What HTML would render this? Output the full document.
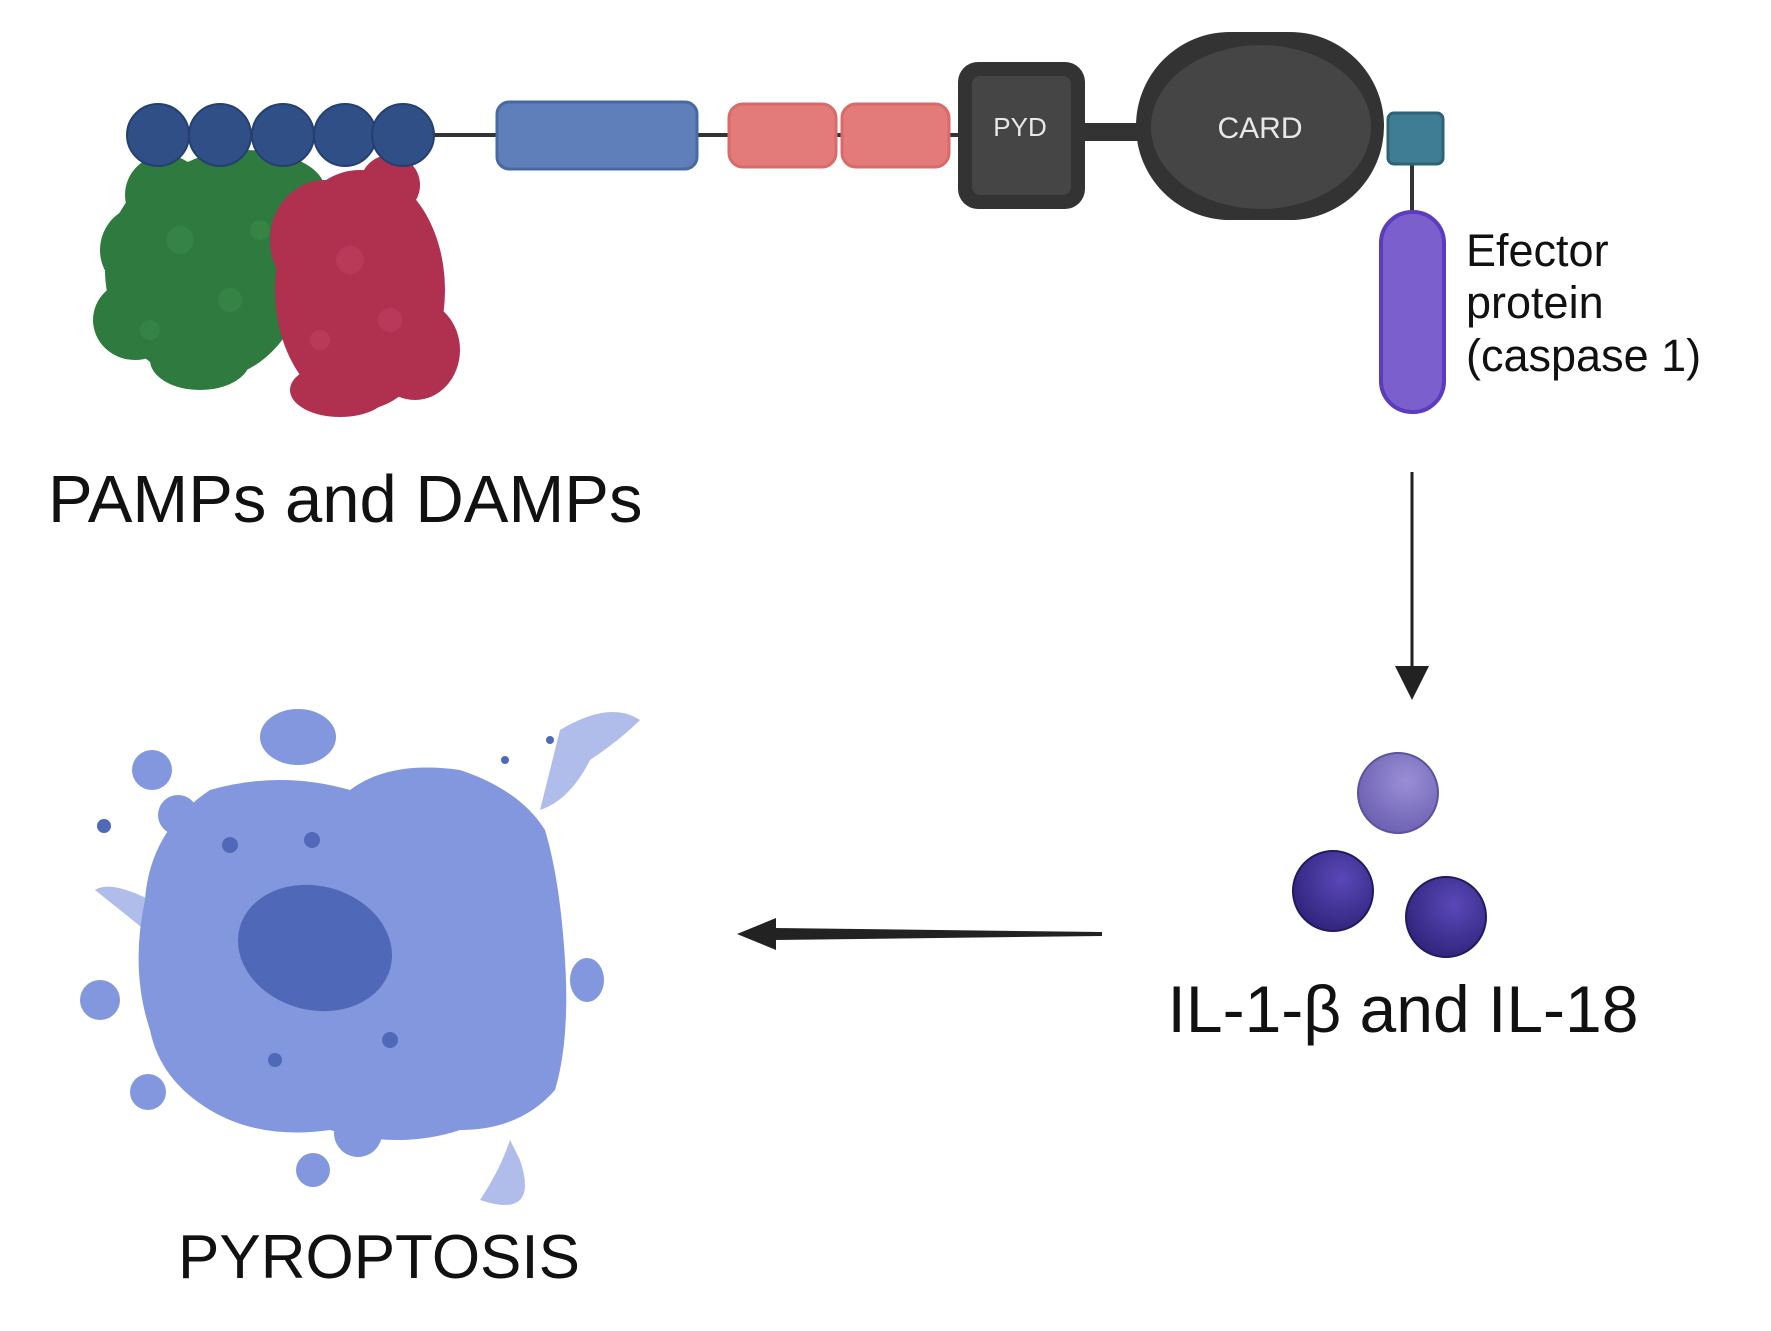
<!DOCTYPE html>
<html><head><meta charset="utf-8"><style>
html,body{margin:0;padding:0;background:#fff;}
svg{display:block;}
text{font-family:"Liberation Sans",sans-serif;}
</style></head><body>
<svg width="1771" height="1331" viewBox="0 0 1771 1331" xmlns="http://www.w3.org/2000/svg">
<defs>
<radialGradient id="pl" cx="0.6" cy="0.35" r="0.7"><stop offset="0" stop-color="#9a8fd6"/><stop offset="1" stop-color="#6b5fb0"/></radialGradient>
<radialGradient id="pd" cx="0.6" cy="0.35" r="0.7"><stop offset="0" stop-color="#5a48b8"/><stop offset="1" stop-color="#2e237a"/></radialGradient>
</defs>
<rect width="1771" height="1331" fill="#fff"/>
<line x1="158" y1="135" x2="965" y2="135" stroke="#333" stroke-width="4"/>
<g fill="#2f7a3e">
<ellipse cx="205" cy="270" rx="100" ry="110"/>
<ellipse cx="145" cy="250" rx="45" ry="45"/>
<ellipse cx="135" cy="320" rx="42" ry="40"/>
<ellipse cx="200" cy="360" rx="50" ry="30"/>
<ellipse cx="245" cy="190" rx="80" ry="40"/>
<ellipse cx="165" cy="195" rx="40" ry="40"/>
</g>
<g fill="#3a8a4a" opacity="0.6"><circle cx="180" cy="240" r="14"/><circle cx="230" cy="300" r="12"/><circle cx="150" cy="330" r="10"/><circle cx="260" cy="230" r="10"/></g>
<g fill="#b03050">
<ellipse cx="360" cy="290" rx="85" ry="120"/>
<ellipse cx="325" cy="240" rx="55" ry="60"/>
<ellipse cx="415" cy="350" rx="45" ry="50"/>
<ellipse cx="340" cy="390" rx="50" ry="27"/>
<ellipse cx="390" cy="185" rx="30" ry="30"/>
</g>
<g fill="#c04060" opacity="0.6"><circle cx="350" cy="260" r="14"/><circle cx="390" cy="320" r="12"/><circle cx="320" cy="340" r="10"/></g>
<g fill="#2f4f86" stroke="#243f70" stroke-width="2">
<circle cx="158" cy="135" r="31"/><circle cx="220" cy="135" r="31"/><circle cx="283" cy="135" r="31"/><circle cx="345" cy="135" r="31"/><circle cx="403" cy="135" r="31"/>
</g>
<rect x="497" y="102" width="200" height="67" rx="12" fill="#5f7fbb" stroke="#4a68a2" stroke-width="3"/>
<rect x="729" y="104" width="107" height="63" rx="14" fill="#e47b7b" stroke="#d96a6a" stroke-width="3"/>
<rect x="842" y="104" width="107" height="63" rx="14" fill="#e47b7b" stroke="#d96a6a" stroke-width="3"/>
<line x1="1080" y1="132" x2="1150" y2="132" stroke="#333" stroke-width="18"/>
<rect x="958" y="62" width="127" height="147" rx="20" fill="#333"/>
<rect x="972" y="76" width="99" height="119" rx="8" fill="#454545"/>
<text x="1020" y="136" font-size="26" fill="#e8e8e8" text-anchor="middle">PYD</text>
<rect x="1136" y="32" width="248" height="188" rx="94" fill="#333"/>
<ellipse cx="1261" cy="127" rx="110" ry="82" fill="#454545"/>
<text x="1260" y="138" font-size="30" fill="#e8e8e8" text-anchor="middle">CARD</text>
<line x1="1412" y1="160" x2="1412" y2="215" stroke="#333" stroke-width="4"/>
<rect x="1388" y="113" width="55" height="51" rx="6" fill="#3f7d95" stroke="#2e6277" stroke-width="3"/>
<rect x="1381" y="212" width="63" height="200" rx="31" fill="#7b5fcc" stroke="#5a3cbc" stroke-width="4"/>
<text font-size="45" fill="#111"><tspan x="1466" y="266">Efector</tspan><tspan x="1466" y="318">protein</tspan><tspan x="1466" y="371">(caspase 1)</tspan></text>
<text x="48" y="522" font-size="67" fill="#111">PAMPs and DAMPs</text>
<line x1="1412" y1="472" x2="1412" y2="670" stroke="#222" stroke-width="3"/>
<polygon points="1395,666 1429,666 1412,700" fill="#222"/>
<circle cx="1398" cy="793" r="40" fill="url(#pl)" stroke="#5c52a0" stroke-width="2"/>
<circle cx="1333" cy="891" r="40" fill="url(#pd)" stroke="#221a60" stroke-width="2"/>
<circle cx="1446" cy="917" r="40" fill="url(#pd)" stroke="#221a60" stroke-width="2"/>
<text x="1403" y="1032" font-size="66" fill="#111" text-anchor="middle">IL-1-β and IL-18</text>
<polygon points="1102,932 1102,936 775,940 775,928" fill="#222"/>
<polygon points="776,918 776,950 737,934" fill="#222"/>
<g fill="#8fa0e0" opacity="0.7">
<path d="M560,730 Q610,700 640,720 Q620,740 590,760 Q570,800 540,810 Z"/>
<path d="M520,1160 Q540,1220 480,1200 Q500,1170 510,1140 Z"/>
<path d="M150,900 Q110,880 95,890 Q120,910 145,930 Z"/>
</g>
<g fill="#8297dd">
<path d="M210,790 Q280,770 350,790 Q390,760 460,770 Q520,790 545,830 Q560,880 565,960 Q570,1040 555,1090 Q520,1130 460,1130 Q400,1150 330,1130 Q260,1140 210,1110 Q160,1080 150,1030 Q130,970 145,900 Q150,830 210,790 Z"/>
<ellipse cx="298" cy="737" rx="38" ry="28"/>
<circle cx="152" cy="770" r="20"/><circle cx="178" cy="815" r="20"/>
<circle cx="100" cy="1000" r="20"/><circle cx="148" cy="1092" r="18"/>
<circle cx="358" cy="1133" r="24"/><circle cx="313" cy="1170" r="17"/>
<ellipse cx="587" cy="980" rx="17" ry="22"/>
</g>
<ellipse cx="315" cy="948" rx="78" ry="62" fill="#5068b8" transform="rotate(15 315 948)"/>
<g fill="#5068b8"><circle cx="104" cy="826" r="7"/><circle cx="230" cy="845" r="8"/><circle cx="312" cy="840" r="8"/><circle cx="390" cy="1040" r="8"/><circle cx="275" cy="1060" r="7"/><circle cx="550" cy="740" r="4"/><circle cx="505" cy="760" r="4"/></g>
<text x="379" y="1278" font-size="62" fill="#111" text-anchor="middle">PYROPTOSIS</text>
</svg>
</body></html>
